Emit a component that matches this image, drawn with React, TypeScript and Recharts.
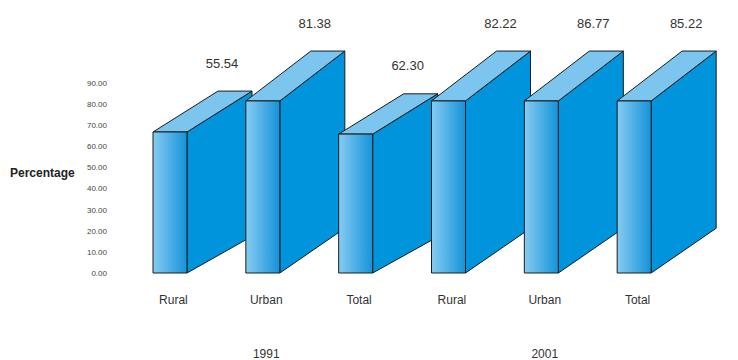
import { BarChart, Bar, XAxis, YAxis, LabelList } from "recharts";

const categories = ["Rural", "Urban", "Total", "Rural", "Urban", "Total"];
const years = ["1991", "1991", "1991", "2001", "2001", "2001"];
// bar heights as drawn against the axis
const barHeights = [66.8, 81.5, 65.8, 81.5, 81.5, 81.5];
// printed value labels
const valueLabels = ["55.54", "81.38", "62.30", "82.22", "86.77", "85.22"];
const yTicks = [0, 10, 20, 30, 40, 50, 60, 70, 80, 90];

const data = categories.map((c, i) => ({
  cat: c + "-" + i,
  name: c,
  year: years[i],
  value: barHeights[i],
  label: valueLabels[i],
}));

const DX = 65;
const FONT = "'Liberation Sans', Arial, sans-serif";

const Box3D = (props: any) => {
  const { x, y, width: w, height: h } = props;
  const dyT = h * 0.29;
  const dyB = h * 0.26;
  const top = [
    [x, y], [x + w, y], [x + w + DX, y - dyT], [x + DX, y - dyT],
  ].map((p) => p.join(",")).join(" ");
  const side = [
    [x + w, y], [x + w + DX, y - dyT], [x + w + DX, y + h - dyB], [x + w, y + h],
  ].map((p) => p.join(",")).join(" ");
  return (
    <g stroke="#1c1c1c" strokeWidth={1} strokeLinejoin="round">
      <polygon points={side} fill="#0094DC" />
      <polygon points={top} fill="#7CC5EE" />
      <rect x={x} y={y} width={w} height={h} fill="url(#frontGrad)" />
    </g>
  );
};

const ValueLabel = (props: any) => {
  const { x, y, width, height, value } = props;
  return (
    <text x={x + width / 2 + 52} y={y - height * 0.29 - 28} textAnchor="middle"
      dominantBaseline="central" fontFamily={FONT} fontSize={13} fill="#333">
      {value}
    </text>
  );
};

const CatTick = (props: any) => {
  const { x, y, index } = props;
  const d = data[index];
  const same = data.map((r, i) => (r.year === d.year ? i : -1)).filter((i) => i >= 0);
  const mid = same[Math.floor(same.length / 2)];
  return (
    <g fontFamily={FONT} fontSize={12} fill="#333">
      <text x={x + 3} y={y + 27} textAnchor="middle" dominantBaseline="central">{d.name}</text>
      {index === mid && (
        <text x={x + 3} y={y + 81} textAnchor="middle" dominantBaseline="central">{d.year}</text>
      )}
    </g>
  );
};

const YLabel = (props: any) => {
  const { viewBox } = props;
  return (
    <text x={viewBox.x + 10} y={viewBox.y + viewBox.height / 2 - 5} dominantBaseline="central"
      fontFamily={FONT} fontSize={12} fontWeight="bold" fill="#222">
      Percentage
    </text>
  );
};

export default function App() {
  return (
    <div style={{ width: 738, height: 360, background: "#fff" }}>
      <style>{"body{margin:0}"}</style>
      <BarChart width={738} height={360} data={data}
        margin={{ top: 83, right: 57, bottom: 0, left: 0 }} barCategoryGap={0}>
        <defs>
          <linearGradient id="frontGrad" x1="0" y1="0" x2="1" y2="0">
            <stop offset="0%" stopColor="#86CCF1" />
            <stop offset="100%" stopColor="#1493DA" />
          </linearGradient>
        </defs>
        <XAxis dataKey="cat" axisLine={false} tickLine={false} tickSize={0} tickMargin={0}
          height={87} interval={0} tick={<CatTick />} />
        <YAxis domain={[0, 90]} ticks={yTicks} width={124} axisLine={false} tickLine={false}
          tickSize={0} tickMargin={17} interval={0}
          tick={{ fontFamily: FONT, fontSize: 8, fill: "#444" }}
          tickFormatter={(v) => (+v).toFixed(2)}
          label={<YLabel />} />
        <Bar dataKey="value" barSize={34} shape={<Box3D />} isAnimationActive={false}>
          <LabelList dataKey="label" content={<ValueLabel />} />
        </Bar>
      </BarChart>
    </div>
  );
}
